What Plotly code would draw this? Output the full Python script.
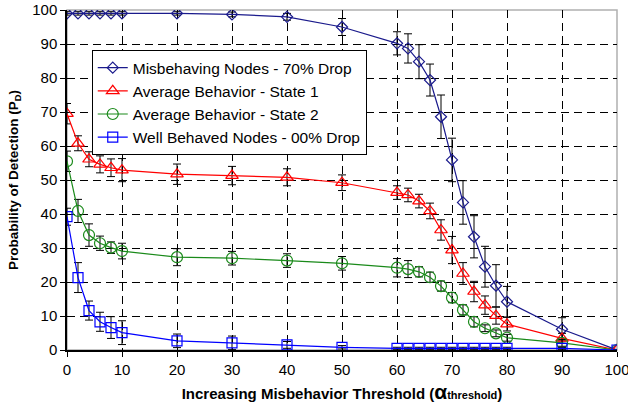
import plotly.graph_objects as go

x_vals = [0, 2, 4, 6, 8, 10, 20, 30, 40, 50, 60, 62, 64, 66, 68, 70, 72, 74, 76, 78, 80, 90, 100]

misbehaving = [99, 99, 99, 99, 99, 99, 99, 98.7, 98, 95, 90.2, 88.7, 84.8, 79.4, 68.6, 55.9, 43.4, 33.3, 24.5, 18.9, 14.2, 6.1, 0]
misbehaving_err = [0.5, 0.5, 0.5, 0.5, 0.5, 0.5, 0.5, 0.7, 1, 2.5, 3.4, 4.3, 5, 4.7, 6.4, 6.4, 6.4, 6.2, 6, 6.2, 4.5, 3.4, 0]

state1 = [69.5, 60.8, 56.1, 54.6, 53.6, 52.9, 51.7, 51.3, 50.8, 49.2, 46.3, 45.6, 43.8, 40.9, 35.3, 29.4, 22.5, 17.2, 13.2, 10.1, 7.6, 3.4, 0]
state1_err = [3, 2.2, 2.2, 2.5, 2.6, 3.4, 3, 2.7, 2.5, 2.3, 2, 2, 2, 2.3, 3, 4, 3.2, 3, 2.7, 2.5, 2, 1.5, 0]

state2 = [55.5, 40.9, 33.8, 31.4, 30.1, 29.1, 27.3, 27.0, 26.3, 25.5, 24.2, 23.8, 23.0, 21.4, 18.8, 15.4, 11.8, 8.3, 6.4, 4.9, 3.6, 2.1, 0]
state2_err = [3, 3.4, 3.3, 2.1, 1.7, 2.3, 2.5, 2, 2, 2, 2.7, 2.5, 1.5, 1.5, 1.5, 1.5, 1.5, 1.5, 1, 1, 1, 1, 0]

well_behaved = [39.2, 21.3, 11.6, 8.3, 6.6, 5.1, 2.7, 2.1, 1.5, 0.8, 0.5, 0.5, 0.5, 0.5, 0.5, 0.5, 0.5, 0.5, 0.5, 0.5, 0.5, 0.5, 0]
well_behaved_err = [2.5, 4.4, 2.8, 2.8, 3.2, 3.5, 2, 2, 1, 0.5, 0.3, 0.3, 0.3, 0.3, 0.3, 0.3, 0.3, 0.3, 0.3, 0.3, 0.3, 0.3, 0]

x_ticks = [0, 10, 20, 30, 40, 50, 60, 70, 80, 90, 100]
y_ticks = [0, 10, 20, 30, 40, 50, 60, 70, 80, 90, 100]

names = ["Misbehaving Nodes - 70% Drop", "Average Behavior - State 1",
         "Average Behavior - State 2", "Well Behaved Nodes - 00% Drop"]

series = [
    (misbehaving, misbehaving_err, "#1a1a8c", "diamond-open", 8.5),
    (state1, state1_err, "#ff0000", "triangle-up-open", 11),
    (state2, state2_err, "#1a8a1a", "circle-open", 11),
    (well_behaved, well_behaved_err, "#0000ff", "square-open", 10),
]

fig = go.Figure()
for name, (y, e, color, sym, size) in zip(names, series):
    fig.add_trace(go.Scatter(
        x=x_vals, y=y, name=name, mode="lines+markers",
        line=dict(color=color, width=1.2),
        marker=dict(symbol=sym, size=size, color=color,
                    line=dict(color=color, width=1.2)),
        error_y=dict(type="data", array=e, visible=True, color="black",
                     thickness=1, width=4),
    ))

axis_common = dict(
    range=[0, 100], showgrid=True, gridcolor="black",
    griddash="8px,5px", gridwidth=1, showline=True, linecolor="black",
    linewidth=1.5, ticks="outside", ticklen=5, tickcolor="black",
    zeroline=False, automargin=False, tickfont=dict(size=15),
    ticklabeloverflow="allow",
)

fig.update_layout(
    width=628, height=406,
    margin=dict(l=67, r=11, t=10, b=56, autoexpand=False),
    paper_bgcolor="white", plot_bgcolor="white",
    font=dict(family="Liberation Sans, Arial, sans-serif", size=14, color="black"),
    legend=dict(x=0.045, y=0.882, xanchor="left", yanchor="top",
                bgcolor="white", bordercolor="black", borderwidth=1,
                font=dict(size=15.5), tracegroupgap=0),
    xaxis=dict(**axis_common, tickvals=x_ticks, ticktext=[str(v) for v in x_ticks],
               title=dict(text="<b>Increasing Misbehavior Threshold (<span style='font-size:21px'>α</span><span style='font-size:11px'>threshold</span>)</b>",
                          font=dict(size=15), standoff=12)),
    yaxis=dict(**axis_common, tickvals=y_ticks, ticktext=[str(v) for v in y_ticks],
               title=dict(text="<b>Probability of Detection (P<sub>D</sub>)</b>",
                          font=dict(size=13.5), standoff=10)),
    showlegend=True,
)
fig.add_shape(type="rect", xref="paper", yref="paper", x0=0, y0=0, x1=1, y1=1,
              line=dict(color="#b0b0b0", width=1.5), layer="below")

fig.write_html("out.html", config={"displayModeBar": False},
               post_script="document.body.style.margin='0';document.body.style.overflow='hidden';")
